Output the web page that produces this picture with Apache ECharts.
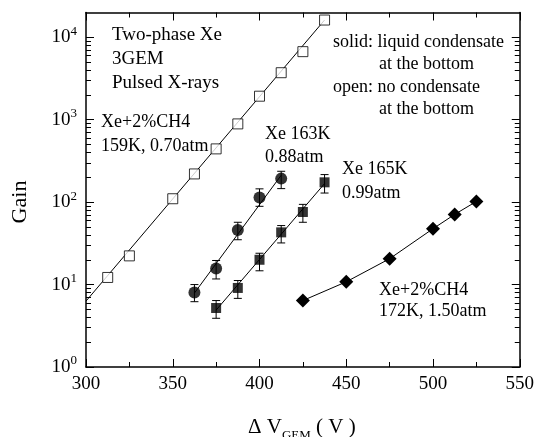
<!DOCTYPE html>
<html>
<head>
<meta charset="utf-8">
<script src="https://cdn.jsdelivr.net/npm/echarts@6/dist/echarts.min.js"></script>
<style>
  html, body { margin: 0; padding: 0; background: #fff; }
  #chart { width: 537px; height: 437px; }
</style>
</head>
<body>
<div id="chart"></div>
<script>
// Gain of the triple-GEM versus voltage across each GEM, pulsed X-rays

// Xe+2%CH4, 159K, 0.70atm (open squares, no condensate)
const openVolt = [312.5, 325, 350, 362.5, 375, 387.5, 400, 412.5, 425, 437.5];
const openGain = [12.2, 22.3, 110, 220, 443, 890, 1930, 3720, 6700, 16200];
const openFitVolt = [300, 437.5];
const openFitGain = [6.3, 16200];

// Xe 163K, 0.88atm (filled circles)
const circVolt = [362.5, 375, 387.5, 400, 412.5];
const circGain = [8.0, 15.7, 46, 114, 193];
const circLow = [6.2, 11.7, 35, 89, 146];
const circHigh = [10.0, 19.6, 57, 145, 237];
const circFitVolt = [362.5, 412.5];
const circFitGain = [7.9, 212];

// Xe 165K, 0.99atm (filled squares)
const sqVolt = [375, 387.5, 400, 412.5, 425, 437.5];
const sqGain = [5.2, 9.1, 20, 43, 76, 174];
const sqLow = [3.9, 6.8, 14.7, 32, 57, 129];
const sqHigh = [6.4, 11.2, 24, 52, 94, 216];
const sqFitVolt = [375, 437.5];
const sqFitGain = [4.9, 168];

// Xe+2%CH4, 172K, 1.50atm (filled diamonds)
const diaVolt = [425, 450, 475, 500, 512.5, 525];
const diaGain = [6.4, 10.8, 20.6, 47.6, 71, 102];

// axis ticks
const xTicks = [300, 350, 400, 450, 500, 550];
const yMajor = [1, 10, 100, 1000, 10000];
const yMinorSteps = [2, 3, 4, 5, 6, 7, 8, 9];

const yMinor = [];
yMajor.forEach(d => yMinorSteps.forEach(m => { if (d * m < 20000) yMinor.push(d * m); }));

const pairs = (xs, ys) => xs.map((x, i) => [x, ys[i]]);
const FONT = '"Liberation Serif", "Times New Roman", serif';
const BLACK = '#000';

function errorBars(xs, lo, hi) {
  return {
    type: 'custom',
    xAxisIndex: 0,
    yAxisIndex: 0,
    z: 3,
    data: xs.map((x, i) => [x, lo[i], hi[i]]),
    renderItem: function (params, api) {
      const top = api.coord([api.value(0), api.value(2)]);
      const bot = api.coord([api.value(0), api.value(1)]);
      const cap = 4;
      const st = { stroke: BLACK, lineWidth: 1 };
      return {
        type: 'group',
        children: [
          { type: 'line', shape: { x1: top[0], y1: top[1], x2: bot[0], y2: bot[1] }, style: st },
          { type: 'line', shape: { x1: top[0] - cap, y1: top[1], x2: top[0] + cap, y2: top[1] }, style: st },
          { type: 'line', shape: { x1: bot[0] - cap, y1: bot[1], x2: bot[0] + cap, y2: bot[1] }, style: st }
        ]
      };
    }
  };
}

function fitLine(xs, ys) {
  return {
    type: 'line', xAxisIndex: 0, yAxisIndex: 0, z: 2,
    data: pairs(xs, ys), symbol: 'none', silent: true,
    lineStyle: { color: BLACK, width: 1 }
  };
}

const axisLine = { show: true, lineStyle: { color: BLACK, width: 1.5 } };
const tickStyle = { color: BLACK, width: 1 };

function xAxisDef(pos, labels) {
  return {
    type: 'value', position: pos, min: 300, max: 550, interval: 50,
    axisLine: axisLine,
    axisTick: { show: true, inside: true, length: 8, lineStyle: tickStyle },
    minorTick: { show: true, splitNumber: 2, length: 5, lineStyle: tickStyle },
    splitLine: { show: false },
    axisLabel: labels ? {
      show: true, margin: 8, color: BLACK, fontFamily: FONT, fontSize: 19,
      customValues: xTicks
    } : { show: false }
  };
}

function yAxisDef(pos, values, len, labels, line) {
  return {
    type: 'log', logBase: 10, position: pos, min: 1, max: 20000,
    axisLine: line ? axisLine : { show: false },
    axisTick: { show: true, inside: true, length: len, lineStyle: tickStyle, customValues: values },
    minorTick: { show: false },
    splitLine: { show: false },
    axisLabel: labels ? {
      show: true, margin: 9, customValues: yMajor,
      formatter: v => '{b|10}{s|' + Math.round(Math.log10(v)) + '}',
      rich: {
        b: { fontFamily: FONT, fontSize: 19, color: BLACK },
        s: { fontFamily: FONT, fontSize: 13, color: BLACK, padding: [0, 0, 12, 0] }
      }
    } : { show: false }
  };
}

function note(text, x, y, size) {
  return {
    type: 'text', x: x, y: y, z: 10,
    style: { text: text, fill: BLACK, font: (size || 18) + 'px ' + FONT, verticalAlign: 'middle', align: 'left' }
  };
}

const chart = echarts.init(document.getElementById('chart'), null, { renderer: 'canvas' });

chart.setOption({
  animation: false,
  backgroundColor: '#fff',
  grid: { left: 86, right: 16, top: 12.5, bottom: 70 },
  xAxis: [xAxisDef('bottom', true), xAxisDef('top', false)],
  yAxis: [
    yAxisDef('left', yMajor, 8, true, true),
    yAxisDef('left', yMinor, 5, false, false),
    yAxisDef('right', yMajor, 8, false, true),
    yAxisDef('right', yMinor, 5, false, false)
  ],
  series: [
    fitLine(openFitVolt, openFitGain),
    fitLine(circFitVolt, circFitGain),
    fitLine(sqFitVolt, sqFitGain),
    errorBars(circVolt, circLow, circHigh),
    errorBars(sqVolt, sqLow, sqHigh),
    {
      type: 'line', xAxisIndex: 0, yAxisIndex: 0, z: 4,
      data: pairs(diaVolt, diaGain),
      symbol: 'diamond', symbolSize: 14,
      itemStyle: { color: BLACK },
      lineStyle: { color: BLACK, width: 1 }
    },
    {
      type: 'scatter', xAxisIndex: 0, yAxisIndex: 0, z: 4,
      data: pairs(openVolt, openGain),
      symbol: 'rect', symbolSize: 10,
      itemStyle: { color: '#fff', borderColor: BLACK, borderWidth: 1 }
    },
    {
      type: 'scatter', xAxisIndex: 0, yAxisIndex: 0, z: 4,
      data: pairs(circVolt, circGain),
      symbol: 'circle', symbolSize: 12,
      itemStyle: { color: BLACK }
    },
    {
      type: 'scatter', xAxisIndex: 0, yAxisIndex: 0, z: 4,
      data: pairs(sqVolt, sqGain),
      symbol: 'rect', symbolSize: 10,
      itemStyle: { color: BLACK }
    }
  ],
  graphic: [
    note('Two-phase Xe', 112, 35, 19),
    note('3GEM', 112, 59, 19),
    note('Pulsed X-rays', 112, 83, 19),
    note('Xe+2%CH4', 101, 122),
    note('159K, 0.70atm', 101, 146),
    note('Xe 163K', 265, 134),
    note('0.88atm', 265, 157),
    note('Xe 165K', 342, 169),
    note('0.99atm', 342, 193),
    note('solid: liquid condensate', 333, 42),
    note('at the bottom', 379, 64),
    note('open: no condensate', 333, 87),
    note('at the bottom', 379, 109),
    note('Xe+2%CH4', 379, 290),
    note('172K, 1.50atm', 379, 311),
    {
      type: 'text', x: 20, y: 202, rotation: Math.PI / 2, z: 10,
      style: { text: 'Gain', fill: BLACK, font: '22px ' + FONT, align: 'center', verticalAlign: 'middle' }
    },
    {
      type: 'text', x: 248, y: 427, z: 10,
      style: {
        text: '{a|\u0394 V}{sub|GEM}{a| ( V )}',
        align: 'left', verticalAlign: 'middle',
        rich: {
          a: { fontFamily: FONT, fontSize: 21, fill: BLACK },
          sub: { fontFamily: FONT, fontSize: 13, fill: BLACK, padding: [18, 0, 0, 0] }
        }
      }
    }
  ]
});
</script>
</body>
</html>
